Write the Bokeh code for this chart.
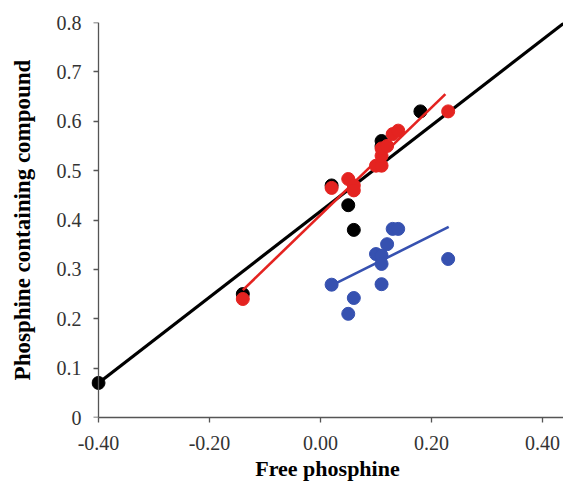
from bokeh.plotting import figure
from bokeh.embed import file_html
from bokeh.resources import INLINE
from bokeh.models import Range1d, FixedTicker, LinearAxis

# Data
black_x = [-0.40, -0.14, 0.02, 0.05, 0.06, 0.11, 0.11, 0.18]
black_y = [0.07, 0.25, 0.47, 0.43, 0.38, 0.56, 0.55, 0.62]

red_x = [-0.14, 0.02, 0.05, 0.06, 0.06, 0.10, 0.11, 0.11, 0.11, 0.12, 0.13, 0.14, 0.23]
red_y = [0.24, 0.465, 0.483, 0.47, 0.46, 0.51, 0.51, 0.53, 0.545, 0.55, 0.574, 0.581, 0.62]

blue_x = [0.02, 0.05, 0.06, 0.10, 0.11, 0.11, 0.11, 0.12, 0.13, 0.14, 0.23]
blue_y = [0.269, 0.21, 0.242, 0.331, 0.328, 0.311, 0.27, 0.351, 0.382, 0.382, 0.321]

# Trend lines (endpoints)
black_fit_x = [-0.40, 0.44]
black_fit_y = [0.07, 0.80]
red_fit_x = [-0.14, 0.225]
red_fit_y = [0.258, 0.655]
blue_fit_x = [0.021, 0.231]
blue_fit_y = [0.268, 0.386]

x_ticks = [-0.40, -0.20, 0.0, 0.20, 0.40]
x_tick_labels = ["-0.40", "-0.20", "0.00", "0.20", "0.40"]
y_ticks = [0, 0.1, 0.2, 0.3, 0.4, 0.5, 0.6, 0.7, 0.8]
y_tick_labels = ["0", "0.1", "0.2", "0.3", "0.4", "0.5", "0.6", "0.7", "0.8"]

BLACK = "#000000"
RED = "#e42320"
BLUE = "#3651b0"
AXC = "#555555"

X0, X1 = -0.40, 0.4378
XS = -0.4126  # small room left of the y axis so the first marker is not cut

p = figure(width=563, height=484, output_backend="svg", toolbar_location=None,
           x_range=Range1d(XS, X1), y_range=Range1d(0, 0.8),
           min_border_left=91, min_border_right=0, min_border_top=22, min_border_bottom=67)
p.outline_line_color = None
p.grid.visible = False
p.background_fill_color = "white"

p.line(black_fit_x, black_fit_y, line_color=BLACK, line_width=3.2)
p.scatter(black_x, black_y, size=13, fill_color=BLACK, line_color=BLACK)
p.line(red_fit_x, red_fit_y, line_color=RED, line_width=2.6)
p.scatter(red_x, red_y, size=13, fill_color=RED, line_color=RED)
p.line(blue_fit_x, blue_fit_y, line_color=BLUE, line_width=2.6)
p.scatter(blue_x, blue_y, size=13, fill_color=BLUE, line_color=BLUE)

# x axis
xa = p.xaxis[0]
xa.axis_line_color = AXC
xa.axis_line_width = 1.3
xa.major_tick_line_color = AXC
xa.major_tick_line_width = 1.3
xa.major_tick_in = 0
xa.major_tick_out = 5
xa.minor_tick_line_color = None
xa.bounds = (X0, X1)
xa.ticker = FixedTicker(ticks=x_ticks)
xa.major_label_overrides = {t: l for t, l in zip(x_ticks, x_tick_labels)}
xa.major_label_text_font = "Liberation Serif"
xa.major_label_text_font_size = "20px"
xa.major_label_text_color = "#333333"
xa.major_label_standoff = 13
xa.axis_label = "Free phosphine"
xa.axis_label_text_font = "Liberation Serif"
xa.axis_label_text_font_style = "bold"
xa.axis_label_text_font_size = "22px"
xa.axis_label_text_color = "#000000"
xa.axis_label_standoff = 3

# y axis: labels and title only (in the left panel)
ya = p.yaxis[0]
ya.axis_line_color = None
ya.major_tick_line_color = None
ya.minor_tick_line_color = None
ya.major_tick_in = 0
ya.major_tick_out = 0
ya.ticker = FixedTicker(ticks=y_ticks)
ya.major_label_overrides = {t: l for t, l in zip(y_ticks, y_tick_labels)}
ya.major_label_text_font = "Liberation Serif"
ya.major_label_text_font_size = "20px"
ya.major_label_text_color = "#333333"
ya.major_label_standoff = 10
ya.axis_label = "Phosphine containing compound"
ya.axis_label_text_font = "Liberation Serif"
ya.axis_label_text_font_style = "bold"
ya.axis_label_text_font_size = "23px"
ya.axis_label_text_color = "#000000"
ya.axis_label_standoff = 19

# y axis line and ticks, placed at x = -0.40
yl = LinearAxis(fixed_location=X0, ticker=FixedTicker(ticks=y_ticks))
yl.axis_line_color = AXC
yl.axis_line_width = 1.3
yl.major_tick_line_color = AXC
yl.major_tick_line_width = 1.3
yl.minor_tick_line_color = None
yl.major_tick_in = 5
yl.major_tick_out = 0
yl.major_label_text_font_size = "0px"
yl.major_label_text_alpha = 0
yl.major_label_standoff = 0
p.add_layout(yl, "right")

open("out.html", "w").write(file_html(p, INLINE))
